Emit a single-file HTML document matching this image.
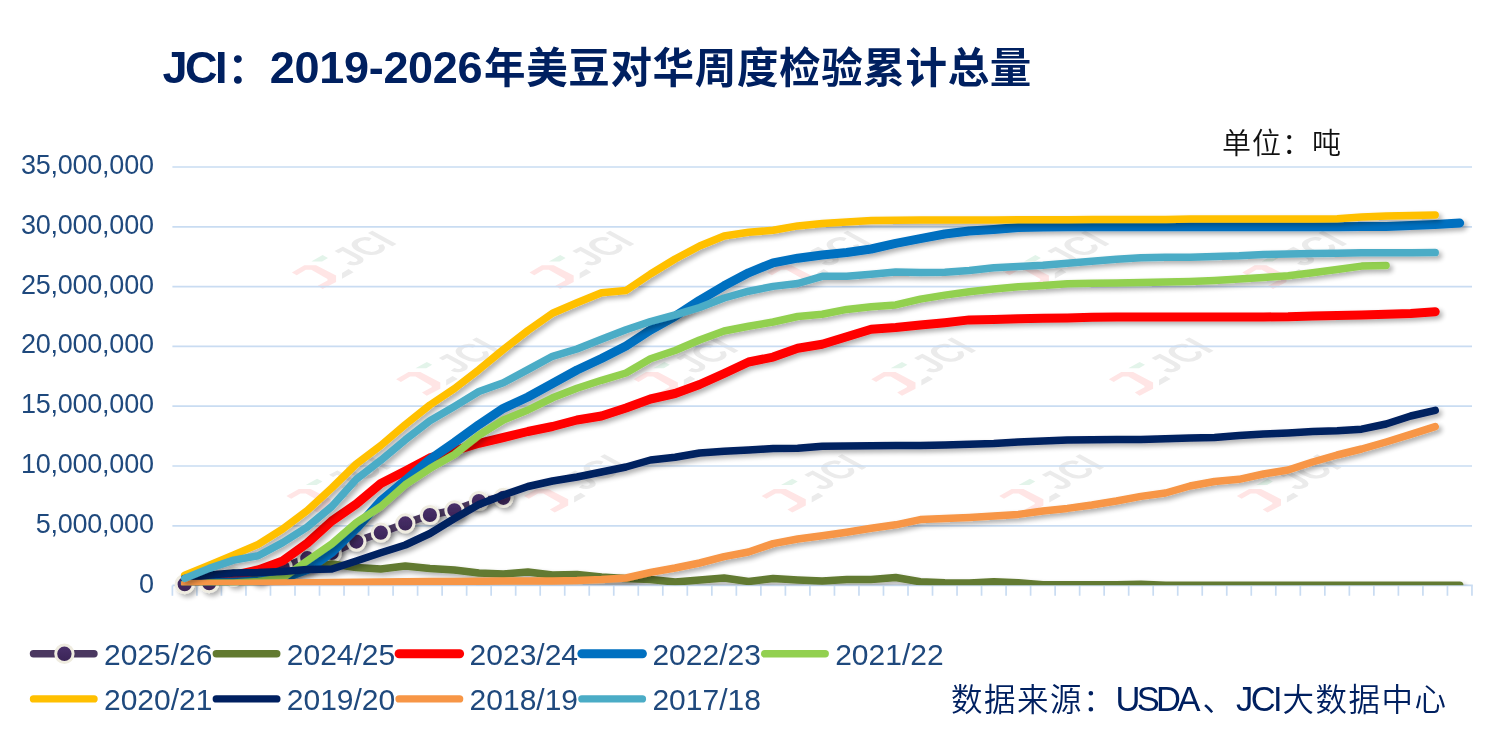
<!DOCTYPE html>
<html lang="zh-CN"><head><meta charset="utf-8"><title>JCI：2019-2026年美豆对华周度检验累计总量</title>
<style>
html,body{margin:0;padding:0;background:#fff}
body{width:1491px;height:742px;position:relative;overflow:hidden;font-family:"Liberation Sans","Noto Sans CJK SC",sans-serif}
.t{position:absolute;white-space:nowrap;line-height:1}
.yl{left:0;width:153.7px;text-align:right;font-size:27px;letter-spacing:-0.24px;color:#1f497d;line-height:32px}
.lg{font-size:30px;color:#1f497d;line-height:40px}
.title{font-weight:700;font-size:41.5px;letter-spacing:0.4px;color:#002060;top:39.3px;line-height:60px}
.title.lat{font-size:45px;top:38px}
.unit{font-weight:350;font-size:29px;letter-spacing:1px;color:#111;left:1222px;top:122.2px;line-height:44px}
.src{font-weight:350;font-size:31.5px;letter-spacing:1.5px;color:#002060;top:675.6px;line-height:48px}
.src.lat{font-size:34.5px;top:675.4px}
</style></head><body>
<svg width="1491" height="742" viewBox="0 0 1491 742" style="position:absolute;left:0;top:0">
<defs><filter id="sh" filterUnits="userSpaceOnUse" x="0" y="0" width="1491" height="742"><feGaussianBlur in="SourceAlpha" stdDeviation="2.5"/><feOffset dx="3.1" dy="3.1"/><feComponentTransfer><feFuncA type="linear" slope="0.32"/></feComponentTransfer><feMerge><feMergeNode/><feMergeNode in="SourceGraphic"/></feMerge></filter>
<g id="wm"><path d="M0 0L12.4 -7.2L24.2 -7.2L44.2 3.1L44.2 9.5L30.7 16.5L25.9 13.3L35.6 7.9L35.6 6.6L19.4 -2.7L14 -2.7L4.8 2.7Z" fill="#ffe5e5"/><path d="M19.4 -11L30.7 -17.4L36.1 -14.5L30.2 -11Z" fill="#e3f4ea"/><path d="M50.1 0.4L56.6 -3.4L61.7 -0.2L50.1 6.3Z" fill="#ebebeb"/><g transform="matrix(0.879,-0.476,0.879,0.476,60.9,-4.9)"><text x="0" y="0" font-family="'Liberation Sans',sans-serif" font-weight="700" font-size="40" fill="#ebebeb" textLength="52" lengthAdjust="spacingAndGlyphs">JCI</text></g></g>
<linearGradient id="mg" x1="0" y1="0" x2="0" y2="1"><stop offset="0" stop-color="#4a316b"/><stop offset="1" stop-color="#392355"/></linearGradient>
<clipPath id="cp"><rect x="0" y="0" width="1491" height="585.2"/></clipPath></defs>
<use href="#wm" x="291.9" y="272.5"/>
<use href="#wm" x="529.5" y="272.5"/>
<use href="#wm" x="767.1" y="272.5"/>
<use href="#wm" x="1004.7" y="272.5"/>
<use href="#wm" x="1242.3" y="272.5"/>
<use href="#wm" x="396.1" y="379.3"/>
<use href="#wm" x="633.7" y="379.3"/>
<use href="#wm" x="871.3" y="379.3"/>
<use href="#wm" x="1108.9" y="379.3"/>
<use href="#wm" x="286.4" y="496.1"/>
<use href="#wm" x="524.0" y="496.1"/>
<use href="#wm" x="761.6" y="496.1"/>
<use href="#wm" x="999.2" y="496.1"/>
<use href="#wm" x="1236.8" y="496.1"/>
<line x1="172.4" x2="1472" y1="167.0" y2="167.0" stroke="#c9dcf2" stroke-width="1.7"/>
<line x1="172.4" x2="1472" y1="226.8" y2="226.8" stroke="#c9dcf2" stroke-width="1.7"/>
<line x1="172.4" x2="1472" y1="286.6" y2="286.6" stroke="#c9dcf2" stroke-width="1.7"/>
<line x1="172.4" x2="1472" y1="346.4" y2="346.4" stroke="#c9dcf2" stroke-width="1.7"/>
<line x1="172.4" x2="1472" y1="406.2" y2="406.2" stroke="#c9dcf2" stroke-width="1.7"/>
<line x1="172.4" x2="1472" y1="466.0" y2="466.0" stroke="#c9dcf2" stroke-width="1.7"/>
<line x1="172.4" x2="1472" y1="525.8" y2="525.8" stroke="#c9dcf2" stroke-width="1.7"/>
<line x1="172.4" x2="1472.8" y1="585.4" y2="585.4" stroke="#c9dcf2" stroke-width="1.7"/>
<path d="M172.40 585.4V595.8M196.92 585.4V595.8M221.44 585.4V595.8M245.96 585.4V595.8M270.48 585.4V595.8M295.00 585.4V595.8M319.52 585.4V595.8M344.04 585.4V595.8M368.56 585.4V595.8M393.08 585.4V595.8M417.60 585.4V595.8M442.12 585.4V595.8M466.64 585.4V595.8M491.16 585.4V595.8M515.68 585.4V595.8M540.20 585.4V595.8M564.72 585.4V595.8M589.24 585.4V595.8M613.76 585.4V595.8M638.28 585.4V595.8M662.80 585.4V595.8M687.32 585.4V595.8M711.84 585.4V595.8M736.36 585.4V595.8M760.88 585.4V595.8M785.40 585.4V595.8M809.92 585.4V595.8M834.44 585.4V595.8M858.96 585.4V595.8M883.48 585.4V595.8M908.00 585.4V595.8M932.52 585.4V595.8M957.04 585.4V595.8M981.56 585.4V595.8M1006.08 585.4V595.8M1030.60 585.4V595.8M1055.12 585.4V595.8M1079.64 585.4V595.8M1104.16 585.4V595.8M1128.68 585.4V595.8M1153.20 585.4V595.8M1177.72 585.4V595.8M1202.24 585.4V595.8M1226.76 585.4V595.8M1251.28 585.4V595.8M1275.80 585.4V595.8M1300.32 585.4V595.8M1324.84 585.4V595.8M1349.36 585.4V595.8M1373.88 585.4V595.8M1398.40 585.4V595.8M1422.92 585.4V595.8M1447.44 585.4V595.8M1471.96 585.4V595.8" stroke="#c9dcf2" stroke-width="1.7" fill="none"/>
<g clip-path="url(#cp)"><g filter="url(#sh)"><path d="M184.7 584.2 L209.2 583.2 L233.7 576.5 L258.2 574.6 L282.7 567.0 L307.3 558.2 L331.8 552.9 L356.3 541.6 L380.8 532.7 L405.3 523.4 L429.9 515.0 L454.4 510.3 L478.9 501.0 L503.4 497.8" fill="none" stroke="#4b3861" stroke-width="7.5" stroke-linecap="round" stroke-linejoin="round"/></g></g><g filter="url(#sh)"><circle cx="184.7" cy="584.2" r="8.6" fill="url(#mg)" stroke="#efece0" stroke-width="3"/><circle cx="209.2" cy="583.2" r="8.6" fill="url(#mg)" stroke="#efece0" stroke-width="3"/><circle cx="233.7" cy="576.5" r="8.6" fill="url(#mg)" stroke="#efece0" stroke-width="3"/><circle cx="258.2" cy="574.6" r="8.6" fill="url(#mg)" stroke="#efece0" stroke-width="3"/><circle cx="282.7" cy="567.0" r="8.6" fill="url(#mg)" stroke="#efece0" stroke-width="3"/><circle cx="307.3" cy="558.2" r="8.6" fill="url(#mg)" stroke="#efece0" stroke-width="3"/><circle cx="331.8" cy="552.9" r="8.6" fill="url(#mg)" stroke="#efece0" stroke-width="3"/><circle cx="356.3" cy="541.6" r="8.6" fill="url(#mg)" stroke="#efece0" stroke-width="3"/><circle cx="380.8" cy="532.7" r="8.6" fill="url(#mg)" stroke="#efece0" stroke-width="3"/><circle cx="405.3" cy="523.4" r="8.6" fill="url(#mg)" stroke="#efece0" stroke-width="3"/><circle cx="429.9" cy="515.0" r="8.6" fill="url(#mg)" stroke="#efece0" stroke-width="3"/><circle cx="454.4" cy="510.3" r="8.6" fill="url(#mg)" stroke="#efece0" stroke-width="3"/><circle cx="478.9" cy="501.0" r="8.6" fill="url(#mg)" stroke="#efece0" stroke-width="3"/><circle cx="503.4" cy="497.8" r="8.6" fill="url(#mg)" stroke="#efece0" stroke-width="3"/></g>
<g clip-path="url(#cp)"><g filter="url(#sh)"><path d="M184.7 584.0 L209.2 583.5 L233.7 582.0 L258.2 579.0 L282.7 574.0 L307.3 568.0 L331.8 564.0 L356.3 567.5 L380.8 569.0 L405.3 566.0 L429.9 568.4 L454.4 570.0 L478.9 573.0 L503.4 574.0 L527.9 572.0 L552.5 575.0 L577.0 574.4 L601.5 577.0 L626.0 578.5 L650.5 579.4 L675.1 582.0 L699.6 580.0 L724.1 578.0 L748.6 581.5 L773.1 578.5 L797.7 580.0 L822.2 581.0 L846.7 579.5 L871.2 579.5 L895.7 577.5 L920.3 581.8 L944.8 582.8 L969.3 583.1 L993.8 581.8 L1018.3 582.8 L1042.9 584.8 L1067.4 584.8 L1091.9 584.8 L1116.4 584.8 L1140.9 584.2 L1165.5 585.2 L1190.0 585.2 L1214.5 585.2 L1239.0 585.2 L1263.5 585.2 L1288.1 585.2 L1312.6 585.2 L1337.1 585.2 L1361.6 585.2 L1386.1 585.2 L1410.7 585.2 L1435.2 585.2 L1459.7 585.2" fill="none" stroke="#627a30" stroke-width="7.5" stroke-linecap="round" stroke-linejoin="round"/></g></g>
<g clip-path="url(#cp)"><g filter="url(#sh)"><path d="M184.7 583.0 L209.2 580.0 L233.7 575.5 L258.2 569.9 L282.7 560.9 L307.3 543.2 L331.8 521.0 L356.3 504.0 L380.8 483.5 L405.3 471.0 L429.9 457.9 L454.4 450.8 L478.9 443.3 L503.4 437.5 L527.9 431.5 L552.5 426.5 L577.0 420.0 L601.5 416.0 L626.0 408.0 L650.5 399.0 L675.1 393.5 L699.6 384.5 L724.1 373.5 L748.6 362.0 L773.1 357.1 L797.7 348.3 L822.2 344.3 L846.7 336.8 L871.2 329.3 L895.7 327.5 L920.3 325.1 L944.8 322.7 L969.3 319.9 L993.8 319.5 L1018.3 318.7 L1042.9 318.3 L1067.4 317.9 L1091.9 317.3 L1116.4 316.9 L1140.9 316.9 L1165.5 316.9 L1190.0 316.9 L1214.5 316.9 L1239.0 316.9 L1263.5 316.9 L1288.1 316.8 L1312.6 315.9 L1337.1 315.5 L1361.6 314.9 L1386.1 314.3 L1410.7 313.5 L1435.2 311.7" fill="none" stroke="#ff0000" stroke-width="9.0" stroke-linecap="round" stroke-linejoin="round"/></g></g>
<g clip-path="url(#cp)"><g filter="url(#sh)"><path d="M184.7 583.0 L209.2 582.5 L233.7 582.0 L258.2 581.0 L282.7 578.3 L307.3 569.5 L331.8 552.3 L356.3 528.4 L380.8 501.0 L405.3 480.4 L429.9 459.4 L454.4 442.5 L478.9 424.7 L503.4 408.3 L527.9 397.0 L552.5 383.5 L577.0 370.0 L601.5 358.5 L626.0 346.0 L650.5 330.0 L675.1 316.3 L699.6 300.3 L724.1 285.8 L748.6 272.8 L773.1 262.8 L797.7 258.2 L822.2 255.0 L846.7 252.5 L871.2 249.0 L895.7 243.4 L920.3 238.7 L944.8 234.0 L969.3 231.0 L993.8 229.4 L1018.3 227.6 L1042.9 227.0 L1067.4 226.8 L1091.9 226.8 L1116.4 226.8 L1140.9 226.8 L1165.5 226.8 L1190.0 226.8 L1214.5 226.8 L1239.0 226.8 L1263.5 226.8 L1288.1 226.8 L1312.6 226.8 L1337.1 226.8 L1361.6 226.6 L1386.1 226.4 L1410.7 225.6 L1435.2 224.4 L1459.7 223.0" fill="none" stroke="#0070c0" stroke-width="9.0" stroke-linecap="round" stroke-linejoin="round"/></g></g>
<g clip-path="url(#cp)"><g filter="url(#sh)"><path d="M184.7 583.5 L209.2 583.0 L233.7 583.0 L258.2 581.5 L282.7 578.0 L307.3 560.8 L331.8 543.9 L356.3 522.7 L380.8 506.5 L405.3 484.7 L429.9 468.6 L454.4 454.5 L478.9 435.2 L503.4 420.0 L527.9 410.0 L552.5 397.8 L577.0 388.3 L601.5 380.3 L626.0 373.0 L650.5 358.7 L675.1 350.5 L699.6 340.0 L724.1 331.0 L748.6 326.2 L773.1 322.0 L797.7 316.5 L822.2 314.2 L846.7 309.4 L871.2 306.7 L895.7 304.9 L920.3 299.1 L944.8 295.1 L969.3 291.7 L993.8 289.1 L1018.3 286.7 L1042.9 285.5 L1067.4 283.7 L1091.9 283.3 L1116.4 282.9 L1140.9 282.5 L1165.5 282.1 L1190.0 281.5 L1214.5 280.5 L1239.0 279.1 L1263.5 277.5 L1288.1 275.7 L1312.6 272.7 L1337.1 269.5 L1361.6 266.1 L1386.1 265.5" fill="none" stroke="#92d050" stroke-width="7.5" stroke-linecap="round" stroke-linejoin="round"/></g></g>
<g clip-path="url(#cp)"><g filter="url(#sh)"><path d="M184.7 575.1 L209.2 565.1 L233.7 554.9 L258.2 544.4 L282.7 529.0 L307.3 510.5 L331.8 488.0 L356.3 464.0 L380.8 445.5 L405.3 424.6 L429.9 405.0 L454.4 388.6 L478.9 369.7 L503.4 349.5 L527.9 330.5 L552.5 313.2 L577.0 302.8 L601.5 292.7 L626.0 290.5 L650.5 274.0 L675.1 259.0 L699.6 246.0 L724.1 236.0 L748.6 232.3 L773.1 230.3 L797.7 225.9 L822.2 223.5 L846.7 221.9 L871.2 220.6 L895.7 220.2 L920.3 220.0 L944.8 220.0 L969.3 220.0 L993.8 219.9 L1018.3 219.8 L1042.9 219.8 L1067.4 219.7 L1091.9 219.6 L1116.4 219.5 L1140.9 219.5 L1165.5 219.5 L1190.0 219.0 L1214.5 219.0 L1239.0 219.0 L1263.5 219.0 L1288.1 219.0 L1312.6 219.0 L1337.1 218.7 L1361.6 217.0 L1386.1 216.0 L1410.7 215.4 L1435.2 215.0" fill="none" stroke="#ffc000" stroke-width="7.5" stroke-linecap="round" stroke-linejoin="round"/></g></g>
<g clip-path="url(#cp)"><g filter="url(#sh)"><path d="M184.7 578.5 L209.2 575.0 L233.7 573.0 L258.2 572.5 L282.7 571.4 L307.3 569.5 L331.8 569.0 L356.3 561.0 L380.8 552.8 L405.3 545.0 L429.9 533.5 L454.4 518.5 L478.9 504.5 L503.4 495.0 L527.9 486.5 L552.5 481.0 L577.0 477.0 L601.5 472.0 L626.0 467.0 L650.5 460.0 L675.1 457.3 L699.6 453.0 L724.1 451.3 L748.6 450.0 L773.1 448.6 L797.7 448.2 L822.2 446.2 L846.7 446.0 L871.2 445.8 L895.7 445.6 L920.3 445.4 L944.8 445.0 L969.3 444.2 L993.8 443.4 L1018.3 442.0 L1042.9 441.0 L1067.4 440.0 L1091.9 439.7 L1116.4 439.6 L1140.9 439.5 L1165.5 438.7 L1190.0 438.0 L1214.5 437.6 L1239.0 435.6 L1263.5 434.0 L1288.1 433.0 L1312.6 431.6 L1337.1 430.8 L1361.6 429.2 L1386.1 424.0 L1410.7 416.0 L1435.2 410.4" fill="none" stroke="#002060" stroke-width="7.5" stroke-linecap="round" stroke-linejoin="round"/></g></g>
<g clip-path="url(#cp)"><g filter="url(#sh)"><path d="M184.7 583.7 L209.2 583.6 L233.7 583.4 L258.2 583.2 L282.7 583.0 L307.3 582.8 L331.8 582.5 L356.3 582.2 L380.8 582.0 L405.3 581.8 L429.9 581.6 L454.4 581.4 L478.9 581.2 L503.4 581.0 L527.9 581.0 L552.5 581.0 L577.0 580.6 L601.5 579.6 L626.0 578.0 L650.5 572.4 L675.1 568.0 L699.6 563.0 L724.1 556.6 L748.6 552.0 L773.1 543.6 L797.7 539.0 L822.2 535.8 L846.7 532.2 L871.2 528.2 L895.7 524.8 L920.3 519.6 L944.8 518.4 L969.3 517.4 L993.8 516.0 L1018.3 514.4 L1042.9 511.0 L1067.4 508.4 L1091.9 505.0 L1116.4 501.0 L1140.9 496.4 L1165.5 493.0 L1190.0 486.0 L1214.5 481.5 L1239.0 479.3 L1263.5 474.0 L1288.1 470.0 L1312.6 462.0 L1337.1 455.0 L1361.6 449.0 L1386.1 442.0 L1410.7 434.4 L1435.2 426.6" fill="none" stroke="#f79646" stroke-width="7.5" stroke-linecap="round" stroke-linejoin="round"/></g></g>
<g clip-path="url(#cp)"><g filter="url(#sh)"><path d="M184.7 578.4 L209.2 568.4 L233.7 560.1 L258.2 555.8 L282.7 542.6 L307.3 527.0 L331.8 506.5 L356.3 479.2 L380.8 460.3 L405.3 439.8 L429.9 420.8 L454.4 406.5 L478.9 391.5 L503.4 382.8 L527.9 369.6 L552.5 356.3 L577.0 349.0 L601.5 339.2 L626.0 329.8 L650.5 321.5 L675.1 314.9 L699.6 307.5 L724.1 298.0 L748.6 291.2 L773.1 286.4 L797.7 283.5 L822.2 276.3 L846.7 276.2 L871.2 274.3 L895.7 272.0 L920.3 272.6 L944.8 272.2 L969.3 270.6 L993.8 267.8 L1018.3 266.6 L1042.9 265.2 L1067.4 263.2 L1091.9 261.2 L1116.4 259.2 L1140.9 257.8 L1165.5 257.2 L1190.0 257.2 L1214.5 256.6 L1239.0 255.8 L1263.5 254.4 L1288.1 254.0 L1312.6 253.6 L1337.1 253.2 L1361.6 252.8 L1386.1 252.8 L1410.7 252.8 L1435.2 252.6" fill="none" stroke="#4bacc6" stroke-width="7.5" stroke-linecap="round" stroke-linejoin="round"/></g></g>
<line x1="33.5" x2="94.0" y1="653.8" y2="653.8" stroke="#4b3861" stroke-width="7.4" stroke-linecap="round"/>
<circle cx="64.4" cy="653.8" r="8.7" fill="url(#mg)" stroke="#efece0" stroke-width="3"/>
<line x1="216.3" x2="276.8" y1="653.8" y2="653.8" stroke="#627a30" stroke-width="7.4" stroke-linecap="round"/>
<line x1="399.1" x2="459.6" y1="653.8" y2="653.8" stroke="#ff0000" stroke-width="9.0" stroke-linecap="round"/>
<line x1="581.9" x2="642.4" y1="653.8" y2="653.8" stroke="#0070c0" stroke-width="9.0" stroke-linecap="round"/>
<line x1="764.7" x2="825.2" y1="653.8" y2="653.8" stroke="#92d050" stroke-width="7.4" stroke-linecap="round"/>
<line x1="33.5" x2="94.0" y1="698.9" y2="698.9" stroke="#ffc000" stroke-width="7.4" stroke-linecap="round"/>
<line x1="216.3" x2="276.8" y1="698.9" y2="698.9" stroke="#002060" stroke-width="7.4" stroke-linecap="round"/>
<line x1="399.1" x2="459.6" y1="698.9" y2="698.9" stroke="#f79646" stroke-width="7.4" stroke-linecap="round"/>
<line x1="581.9" x2="642.4" y1="698.9" y2="698.9" stroke="#4bacc6" stroke-width="7.4" stroke-linecap="round"/>
</svg>
<div class="t title lat" style="left:162.6px;letter-spacing:-2.5px">JCI</div>
<div class="t title" style="left:227.5px">：</div>
<div class="t title lat" style="left:269.8px;letter-spacing:-0.3px">2019-2026</div>
<div class="t title" style="left:484px;letter-spacing:0.65px">年美豆对华周度检验累计总量</div>
<div class="t unit">单位：吨</div>
<div class="t yl" style="top:148.9px">35,000,000</div>
<div class="t yl" style="top:208.7px">30,000,000</div>
<div class="t yl" style="top:268.5px">25,000,000</div>
<div class="t yl" style="top:328.3px">20,000,000</div>
<div class="t yl" style="top:388.1px">15,000,000</div>
<div class="t yl" style="top:447.9px">10,000,000</div>
<div class="t yl" style="top:507.7px">5,000,000</div>
<div class="t yl" style="top:567.5px">0</div>
<div class="t lg" style="left:104.0px;top:635.1px">2025/26</div>
<div class="t lg" style="left:286.8px;top:635.1px">2024/25</div>
<div class="t lg" style="left:469.6px;top:635.1px">2023/24</div>
<div class="t lg" style="left:652.4px;top:635.1px">2022/23</div>
<div class="t lg" style="left:835.2px;top:635.1px">2021/22</div>
<div class="t lg" style="left:104.0px;top:680.2px">2020/21</div>
<div class="t lg" style="left:286.8px;top:680.2px">2019/20</div>
<div class="t lg" style="left:469.6px;top:680.2px">2018/19</div>
<div class="t lg" style="left:652.4px;top:680.2px">2017/18</div>
<div class="t src" style="left:951px">数据来源：</div>
<div class="t src lat" style="left:1115.4px;letter-spacing:-3.6px">USDA</div>
<div class="t src" style="left:1202.5px">、</div>
<div class="t src lat" style="left:1236px;letter-spacing:-2.6px">JCI</div>
<div class="t src" style="left:1282.5px">大数据中心</div>
</body></html>
